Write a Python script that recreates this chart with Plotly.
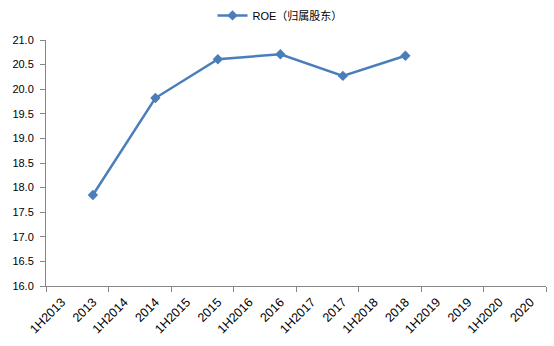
import plotly.graph_objects as go

categories = ["1H2013", "2013", "1H2014", "2014", "1H2015", "2015", "1H2016", "2016",
              "1H2017", "2017", "1H2018", "2018", "1H2019", "2019", "1H2020", "2020"]
roe = [None, 17.85, None, 19.82, None, 20.61, None, 20.71,
       None, 20.27, None, 20.68, None, None, None, None]
series_name = "ROE（归属股东）"
y_ticks = [16.0, 16.5, 17.0, 17.5, 18.0, 18.5, 19.0, 19.5, 20.0, 20.5, 21.0]

idx = list(range(len(categories)))
boundaries = [i - 0.5 for i in range(0, len(categories) + 1, 2)]

font_family = "Liberation Sans, Arial, Noto Sans CJK SC, sans-serif"
axis_gray = "#868686"

fig = go.Figure()
fig.add_trace(go.Scatter(
    x=idx, y=roe, name=series_name, mode="lines+markers",
    connectgaps=True,
    line=dict(color="#4A7EBB", width=2.5),
    marker=dict(symbol="diamond", size=8, color="#4A7EBB"),
    showlegend=True,
))

fig.update_layout(
    width=554, height=346,
    margin=dict(l=46, r=8, t=40, b=60, autoexpand=False),
    paper_bgcolor="white", plot_bgcolor="white",
    font=dict(family=font_family, size=11, color="black"),
    showlegend=True,
    legend=dict(orientation="h", x=0.468, xanchor="center",
                y=1.10, yanchor="middle",
                font=dict(size=11, family=font_family), itemwidth=30),
    xaxis=dict(
        range=[-0.5, len(categories) - 0.5],
        tickmode="array", tickvals=idx, ticktext=categories,
        ticks="", tickangle=-45, showgrid=False, zeroline=False,
        showline=True, linecolor=axis_gray, linewidth=1,
        tickfont=dict(size=12.5, family=font_family),
        automargin=False, ticklabelstandoff=3,
        minor=dict(tickmode="array", tickvals=boundaries, ticks="outside",
                   ticklen=5, tickcolor=axis_gray, tickwidth=1, showgrid=False),
    ),
    yaxis=dict(
        range=[16, 21], tickmode="array", tickvals=y_ticks,
        tickformat=".1f", ticks="outside", ticklen=5, tickcolor=axis_gray,
        showgrid=False, zeroline=False, automargin=False,
        ticklabelstandoff=4,
        showline=True, linecolor=axis_gray, linewidth=1,
        tickfont=dict(size=11, family=font_family),
    ),
)

fig.write_html("out.html")
